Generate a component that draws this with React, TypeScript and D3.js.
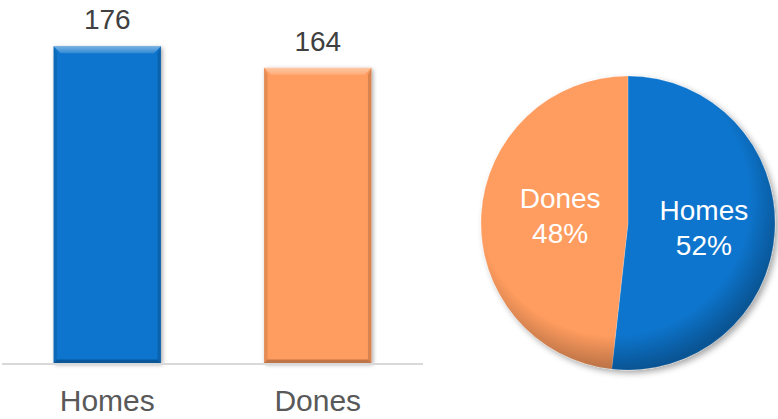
import React, { useRef, useEffect } from "react";
import * as d3 from "d3";

const categories = ["Homes", "Dones"];
const counts = [176, 164];
const colors = ["#0a74cd", "#ff9c5f"];
const yDomainMax = 200;

const App = () => {
  const svgRef = useRef<SVGSVGElement>(null);

  useEffect(() => {
    const w = 778;
    const h = 419;
    const svg = d3.select(svgRef.current).attr("width", w).attr("height", h);
    svg.selectAll("*").remove();

    const defs = svg.append("defs");
    const shadow = defs.append("filter").attr("id", "shadow")
      .attr("x", "-20%").attr("y", "-20%").attr("width", "140%").attr("height", "140%");
    shadow.append("feDropShadow").attr("dx", 1.5).attr("dy", 1.5)
      .attr("stdDeviation", 2).attr("flood-color", "#000").attr("flood-opacity", 0.35);

    const pieShadow = defs.append("filter").attr("id", "pieShadow")
      .attr("x", "-20%").attr("y", "-20%").attr("width", "140%").attr("height", "140%");
    pieShadow.append("feDropShadow").attr("dx", 3).attr("dy", 3)
      .attr("stdDeviation", 3).attr("flood-color", "#000").attr("flood-opacity", 0.35);

    const rim = defs.append("radialGradient").attr("id", "rim")
      .attr("cx", "45%").attr("cy", "42%").attr("r", "58%");
    rim.append("stop").attr("offset", "0.8").attr("stop-color", "#000").attr("stop-opacity", 0);
    rim.append("stop").attr("offset", "1").attr("stop-color", "#000").attr("stop-opacity", 0.28);

    const topLight = defs.append("linearGradient").attr("id", "topLight")
      .attr("x1", 0).attr("y1", 0).attr("x2", 0).attr("y2", 1);
    topLight.append("stop").attr("offset", 0).attr("stop-color", "#fff").attr("stop-opacity", 0.45);
    topLight.append("stop").attr("offset", 1).attr("stop-color", "#fff").attr("stop-opacity", 0.15);

    // ---- bar chart ----
    const left = 2, right = 423, baseY = 363;
    const x = d3.scaleBand().domain(categories).range([left, right])
      .paddingInner(0.49).paddingOuter(0.245);
    const y = d3.scaleLinear().domain([0, yDomainMax]).range([baseY, 3]);

    const font = "'Liberation Sans', Arial, sans-serif";
    const bev = 7;

    categories.forEach((c, i) => {
      const x0 = x(c)!;
      const bw = x.bandwidth();
      const y0 = y(counts[i]);
      const y1 = baseY;
      const g = svg.append("g");
      g.append("rect").attr("x", x0).attr("y", y0).attr("width", bw).attr("height", y1 - y0)
        .attr("fill", colors[i]).attr("filter", "url(#shadow)");
      const poly = (pts: number[][], fill: string, op: number) =>
        g.append("polygon").attr("points", pts.map((p) => p.join(",")).join(" "))
          .attr("fill", fill).attr("fill-opacity", op);
      // top bevel (light)
      poly([[x0, y0], [x0 + bw, y0], [x0 + bw - bev, y0 + bev], [x0 + bev, y0 + bev]], "url(#topLight)", 1);
      // left / right bevels
      poly([[x0, y0], [x0 + bev * 0.5, y0 + bev], [x0 + bev * 0.5, y1 - bev * 0.5], [x0, y1]], "#000", 0.1);
      poly([[x0 + bw, y0], [x0 + bw - bev * 0.5, y0 + bev], [x0 + bw - bev * 0.5, y1 - bev * 0.5], [x0 + bw, y1]], "#000", 0.15);
      // bottom bevel (dark)
      poly([[x0, y1], [x0 + bev * 0.5, y1 - bev * 0.5], [x0 + bw - bev * 0.5, y1 - bev * 0.5], [x0 + bw, y1]], "#000", 0.25);

      svg.append("text").attr("x", x0 + bw / 2).attr("y", y0 - 17)
        .attr("text-anchor", "middle").attr("font-family", font).attr("font-size", 28)
        .attr("fill", "#404040").text(counts[i]);
    });

    svg.append("line").attr("x1", left).attr("x2", right).attr("y1", baseY + 1).attr("y2", baseY + 1)
      .attr("stroke", "#d9d9d9").attr("stroke-width", 2);

    const xAxis = d3.axisBottom(x).tickSize(0).tickPadding(0);
    const ax = svg.append("g").attr("transform", `translate(0, ${baseY})`).call(xAxis);
    ax.select(".domain").remove();
    ax.selectAll(".tick text").attr("font-family", font).attr("font-size", 30)
      .attr("fill", "#595959").attr("dy", 0).attr("y", 48);

    // ---- pie chart ----
    const cx = 628, cy = 223, r = 147;
    const pie = d3.pie<number>().sort(null).value((d) => d);
    const arcs = pie(counts);
    const arc = d3.arc<d3.PieArcDatum<number>>().innerRadius(0).outerRadius(r);
    const labelArc = d3.arc<d3.PieArcDatum<number>>().innerRadius(72).outerRadius(72);
    const total = d3.sum(counts);

    const pg = svg.append("g").attr("transform", `translate(${cx},${cy})`);
    const sg = pg.append("g").attr("filter", "url(#pieShadow)");
    sg.selectAll("path").data(arcs).enter().append("path")
      .attr("d", arc).attr("fill", (_, i) => colors[i])
      .attr("stroke", "#fff").attr("stroke-opacity", 0.25).attr("stroke-width", 0.8);
    pg.append("circle").attr("r", r).attr("fill", "url(#rim)");

    arcs.forEach((a, i) => {
      const [cxl, cyl] = labelArc.centroid(a);
      const lx = cxl + 4;
      const ly = cyl * 1.5;
      const t = pg.append("text").attr("x", lx).attr("y", ly)
        .attr("text-anchor", "middle").attr("font-family", font).attr("font-size", 28)
        .attr("fill", "#fff");
      t.append("tspan").attr("x", lx).attr("dy", -9).text(categories[i]);
      t.append("tspan").attr("x", lx).attr("dy", 35)
        .text(`${Math.round((counts[i] / total) * 100)}%`);
    });
  }, []);

  return (
    <svg ref={svgRef} style={{ position: "absolute", left: 0, top: 0, background: "#fff" }}></svg>
  );
};

export default App;
